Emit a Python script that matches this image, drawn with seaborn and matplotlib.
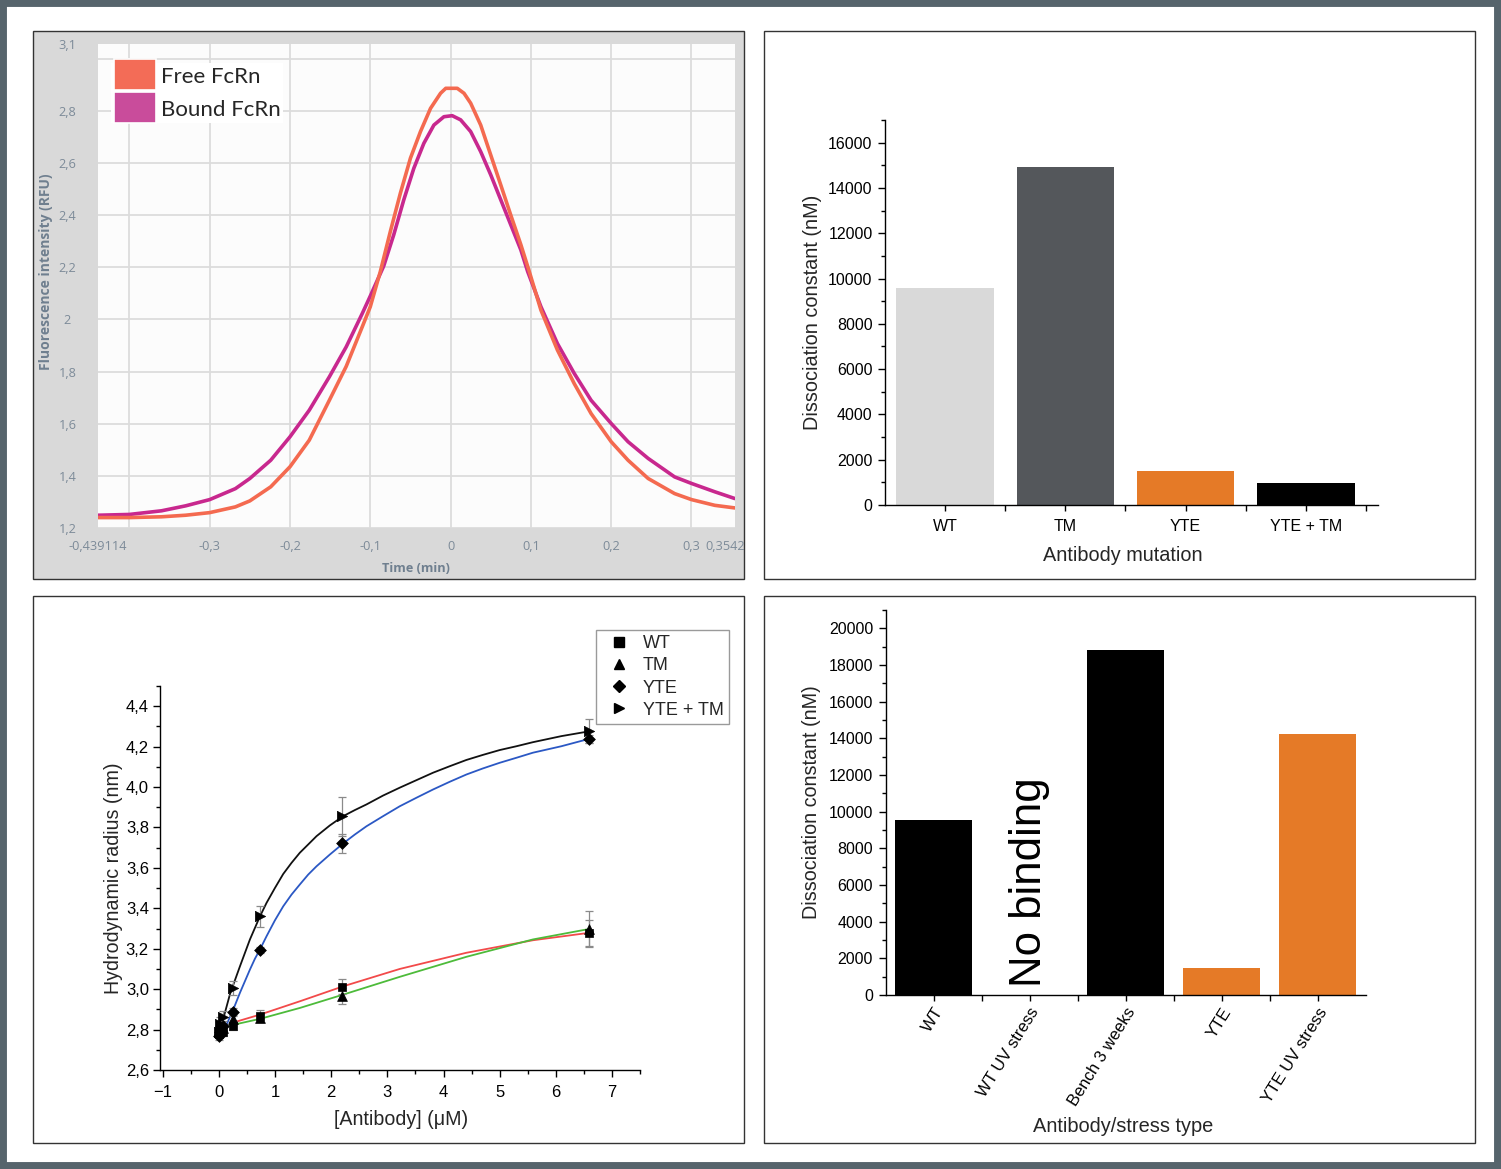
import numpy as np
import matplotlib
matplotlib.use("Agg")
import matplotlib.pyplot as plt
import seaborn as sns
from matplotlib.patches import Rectangle, Patch
from matplotlib.lines import Line2D
from matplotlib.legend_handler import HandlerPatch
from matplotlib.ticker import MultipleLocator, FixedLocator, FuncFormatter
from matplotlib.transforms import ScaledTranslation

W, H = 1501, 1169

# Painel A - picos de FcRn
free_time = [-0.439, -0.40, -0.36, -0.33, -0.30, -0.268, -0.25, -0.224, -0.20, -0.176,
             -0.151, -0.13, -0.11, -0.10, -0.0875, -0.075, -0.0625, -0.05, -0.0375,
             -0.025, -0.0125, -0.006, 0.0083, 0.0167, 0.025, 0.0375, 0.05, 0.0625,
             0.075, 0.0875, 0.098, 0.1125, 0.133, 0.154, 0.175, 0.20, 0.221, 0.246,
             0.279, 0.30, 0.329, 0.354]
free_fcrn = [1.240, 1.240, 1.243, 1.249, 1.259, 1.281, 1.304, 1.358, 1.435, 1.537,
             1.690, 1.820, 1.972, 2.049, 2.184, 2.338, 2.485, 2.619, 2.721,
             2.810, 2.868, 2.887, 2.887, 2.868, 2.830, 2.746, 2.631, 2.516,
             2.400, 2.287, 2.184, 2.036, 1.883, 1.754, 1.639, 1.531, 1.460, 1.390,
             1.332, 1.309, 1.287, 1.277]
bound_time = [-0.439, -0.40, -0.36, -0.33, -0.30, -0.268, -0.25, -0.224, -0.20, -0.176,
              -0.151, -0.13, -0.11, -0.10, -0.0833, -0.0708, -0.0583, -0.0458, -0.0333,
              -0.0208, -0.0083, 0.002, 0.0125, 0.025, 0.0375, 0.05, 0.0625, 0.075,
              0.0875, 0.096, 0.1125, 0.133, 0.154, 0.175, 0.20, 0.221, 0.246, 0.279,
              0.30, 0.329, 0.354]
bound_fcrn = [1.249, 1.252, 1.266, 1.285, 1.309, 1.351, 1.390, 1.460, 1.550, 1.652,
              1.780, 1.895, 2.023, 2.090, 2.205, 2.325, 2.459, 2.580, 2.676,
              2.746, 2.778, 2.782, 2.766, 2.721, 2.644, 2.555, 2.459, 2.363,
              2.267, 2.184, 2.049, 1.908, 1.793, 1.690, 1.601, 1.531, 1.467, 1.396,
              1.371, 1.339, 1.313]

# Painel B - constante de dissociação por mutação
mutations = ["WT", "TM", "YTE", "YTE + TM"]
kd_mutation = [9570, 14930, 1500, 960]
mutation_colors = ["#d9d9d9", "#54575b", "#e57a27", "#000000"]

# Painel C - raio hidrodinâmico
antibody_conc = [0, 0.027, 0.081, 0.244, 0.733, 2.2, 6.6]
rh_wt = [2.78, 2.80, 2.79, 2.82, 2.866, 3.011, 3.279]
rh_wt_err = [0.02, 0.02, 0.02, 0.02, 0.03, 0.037, 0.063]
rh_tm = [2.80, 2.82, 2.81, 2.85, 2.858, 2.968, 3.298]
rh_tm_err = [0.02, 0.02, 0.02, 0.02, 0.02, 0.04, 0.09]
rh_yte = [2.77, 2.79, 2.82, 2.887, 3.193, 3.721, 4.236]
rh_yte_err = [0.02, 0.02, 0.02, 0.02, 0.015, 0.045, 0.02]
rh_ytetm = [2.79, 2.83, 2.86, 3.006, 3.36, 3.856, 4.276]
rh_ytetm_err = [0.02, 0.03, 0.03, 0.035, 0.052, 0.096, 0.06]

fit_ytetm_x = [0.006, 0.077, 0.107, 0.196, 0.225, 0.374, 0.552, 0.730, 0.848, 0.996,
               1.145, 1.293, 1.441, 1.59, 1.738, 1.975, 2.212, 2.42, 2.628, 2.924,
               3.221, 3.517, 3.814, 4.11, 4.407, 4.70, 5.0, 5.30, 5.593, 6.1, 6.6]
fit_ytetm = [2.775, 2.855, 2.884, 2.975, 2.998, 3.113, 3.246, 3.360, 3.427, 3.500,
             3.570, 3.625, 3.675, 3.716, 3.757, 3.810, 3.856, 3.886, 3.914, 3.958,
             3.997, 4.034, 4.071, 4.103, 4.134, 4.159, 4.183, 4.202, 4.222, 4.252, 4.276]
fit_yte_x = [0.018, 0.136, 0.255, 0.374, 0.552, 0.64, 0.730, 0.848, 0.996, 1.145,
             1.293, 1.441, 1.59, 1.738, 1.975, 2.212, 2.42, 2.628, 2.924, 3.221,
             3.517, 3.814, 4.11, 4.407, 4.70, 5.0, 5.30, 5.593, 6.1, 6.6]
fit_yte = [2.759, 2.825, 2.899, 2.982, 3.097, 3.150, 3.196, 3.262, 3.340, 3.410,
           3.468, 3.518, 3.567, 3.608, 3.666, 3.721, 3.765, 3.806, 3.856, 3.905,
           3.947, 3.988, 4.026, 4.062, 4.092, 4.120, 4.145, 4.170, 4.202, 4.239]
fit_lin_x = [0.196, 0.730, 1.441, 2.212, 3.221, 4.407, 5.593, 6.6]
fit_wt = [2.830, 2.874, 2.940, 3.014, 3.100, 3.180, 3.242, 3.279]
fit_tm = [2.820, 2.853, 2.907, 2.973, 3.061, 3.160, 3.246, 3.298]

# Painel D - constante de dissociação por estresse
stress_types = ["WT", "WT UV stress", "Bench 3 weeks", "YTE", "YTE UV stress"]
kd_stress = [9570, 0, 18810, 1500, 14220]
stress_colors = ["#000000", "#000000", "#000000", "#e57a27", "#e57a27"]


def frac_rect(x0, y0, x1, y1):
    return [x0 / W, 1 - y1 / H, (x1 - x0) / W, (y1 - y0) / H]


def comma(v, pos=None):
    return f"{v:.1f}".replace(".", ",")


def big_patch(legend, orig_handle, xdescent, ydescent, width, height, fontsize):
    # quadrado alto como no software original
    h = 22.8
    cy = (height - ydescent) / 2
    return Rectangle((-xdescent, cy - h / 2), width, h)


sns.set_theme(style="ticks")
plt.rcParams["font.family"] = ["Liberation Sans", "DejaVu Sans"]
plt.rcParams["axes.linewidth"] = 1.0
plt.rcParams["axes.edgecolor"] = "black"
plt.rcParams["xtick.color"] = "black"
plt.rcParams["ytick.color"] = "black"

fig = plt.figure(figsize=(W / 100, H / 100), dpi=100)
fig.patch.set_facecolor("white")

panels = [((33, 31, 744, 579), "#d9d9d9"), ((764, 31, 1475, 579), "white"),
          ((33, 596, 744, 1143), "white"), ((764, 596, 1475, 1143), "white")]
for box, fc in panels:
    l, b, w, h = frac_rect(*box)
    fig.patches.append(Rectangle((l, b), w, h, transform=fig.transFigure,
                                 facecolor=fc, edgecolor="#333333", lw=1.0, zorder=-1))
fig.patches.append(Rectangle((0, 0), 1, 1, transform=fig.transFigure, fill=False,
                             edgecolor="#56646c", lw=10, zorder=10))

# ---------- Painel A ----------
axA = fig.add_axes(frac_rect(98, 44, 735, 528))
axA.set_facecolor("#fcfcfc")
sns.lineplot(x=bound_time, y=bound_fcrn, ax=axA, color="#c8288e", lw=2.6)
sns.lineplot(x=free_time, y=free_fcrn, ax=axA, color="#f46a50", lw=2.6)
axA.set_xlim(-0.439114, 0.3542)
axA.set_ylim(1.2, 3.057)
axA.xaxis.remove_overlapping_locs = False
axA.yaxis.remove_overlapping_locs = False
xt = [-0.439114, -0.3, -0.2, -0.1, 0, 0.1, 0.2, 0.3, 0.3542]
xl = ["-0,439114", "-0,3", "-0,2", "-0,1", "0", "0,1", "0,2", "0,3", "0,3542"]
axA.xaxis.set_major_locator(FixedLocator(xt))
axA.set_xticklabels(xl)
axA.xaxis.set_minor_locator(FixedLocator([-0.4, -0.3, -0.2, -0.1, 0, 0.1, 0.2, 0.3]))
yt = [1.2, 1.4, 1.6, 1.8, 2.0, 2.2, 2.4, 2.6, 2.8, 3.057]
yl = ["1,2", "1,4", "1,6", "1,8", "2", "2,2", "2,4", "2,6", "2,8", "3,1"]
axA.yaxis.set_major_locator(FixedLocator(yt))
axA.set_yticklabels(yl, ha="center")
axA.yaxis.set_minor_locator(FixedLocator([1.2, 1.4, 1.6, 1.8, 2.0, 2.2, 2.4, 2.6, 2.8, 3.0]))
axA.grid(False)
axA.grid(which="minor", color="#dcdcdc", lw=1.3)
axA.set_axisbelow(True)
for s in axA.spines.values():
    s.set_visible(False)
axA.tick_params(which="both", length=0, labelcolor="#7d8b99", labelsize=9.2)
axA.tick_params(axis="y", pad=22)
axA.tick_params(axis="x", pad=9)
for lbl in axA.get_xticklabels() + axA.get_yticklabels():
    lbl.set_family(["Open Sans", "DejaVu Sans"])
axA.set_xlabel("Time (min)", fontsize=9.2, fontweight="bold", color="#6f7f8f",
               family=["Open Sans", "DejaVu Sans"])
axA.set_ylabel("Fluorescence intensity (RFU)", fontsize=10, fontweight="bold",
               color="#6f7f8f", family=["Open Sans", "DejaVu Sans"])
axA.xaxis.set_label_coords((416 - 98) / 637, (528 - 562) / 484)
axA.yaxis.set_label_coords((53 - 98) / 637, (528 - 272) / 484)
handles = [Patch(facecolor="#f36c57", edgecolor="white", lw=1.2),
           Patch(facecolor="#c94c9b", edgecolor="white", lw=1.2)]
axA.legend(handles, ["Free FcRn", "Bound FcRn"], loc="upper left",
           bbox_to_anchor=((111 - 98) / 637, (528 - 63) / 484), borderaxespad=0,
           frameon=True, facecolor="white", edgecolor="none", fancybox=False,
           framealpha=1, handlelength=1.9, handleheight=1.0, handletextpad=0.22,
           labelspacing=0.52, borderpad=0.12,
           handler_map={Patch: HandlerPatch(patch_func=big_patch)},
           prop={"family": ["Lato", "DejaVu Sans"], "size": 16})

# ---------- Painel B ----------
axB = fig.add_axes(frac_rect(885, 120, 1378, 505))
axB.set_facecolor("none")
sns.barplot(x=mutations, y=kd_mutation, hue=mutations, palette=mutation_colors,
            saturation=1, width=0.81, legend=False, ax=axB, linewidth=0)
axB.set_xlim(-0.5, 3.6)
axB.set_ylim(0, 17000)
axB.yaxis.set_major_locator(MultipleLocator(2000))
axB.yaxis.set_minor_locator(MultipleLocator(1000))
axB.xaxis.set_minor_locator(FixedLocator([0.5, 1.5, 2.5, 3.5]))
sns.despine(ax=axB)
axB.tick_params(which="major", length=5, width=1, labelsize=11.5)
axB.tick_params(which="minor", length=3, width=1)
axB.tick_params(axis="x", which="both", length=4, pad=6)
axB.tick_params(axis="y", pad=4)
axB.set_xlabel("Antibody mutation", fontsize=14.3)
axB.set_ylabel("Dissociation constant (nM)", fontsize=14.3)
axB.xaxis.set_label_coords((1123 - 885) / 493, (505 - 546) / 385)
axB.yaxis.set_label_coords((822 - 885) / 493, 0.5)

# ---------- Painel C ----------
axC = fig.add_axes(frac_rect(160, 686, 640, 1070))
axC.set_facecolor("none")
sns.lineplot(x=fit_ytetm_x, y=fit_ytetm, ax=axC, color="#111111", lw=1.3)
sns.lineplot(x=fit_yte_x, y=fit_yte, ax=axC, color="#2b58c4", lw=1.3)
sns.lineplot(x=fit_lin_x, y=fit_wt, ax=axC, color="#f24a4a", lw=1.3)
sns.lineplot(x=fit_lin_x, y=fit_tm, ax=axC, color="#4dbb3a", lw=1.3)
series = [(rh_wt, rh_wt_err, "s", 40), (rh_tm, rh_tm_err, "^", 50),
          (rh_yte, rh_yte_err, "D", 36), (rh_ytetm, rh_ytetm_err, ">", 55)]
for vals, errs, mk, sz in series:
    axC.errorbar(antibody_conc, vals, yerr=errs, fmt="none", ecolor="#8a8a8a",
                 elinewidth=0.9, capsize=3, capthick=0.9, zorder=2)
for vals, errs, mk, sz in series:
    sns.scatterplot(x=antibody_conc, y=vals, marker=mk, s=sz, color="black",
                    edgecolor="black", linewidth=0.5, ax=axC, zorder=4)
axC.set_xlim(-1.05, 7.5)
axC.set_ylim(2.6, 4.5)
axC.xaxis.set_major_locator(MultipleLocator(1))
axC.xaxis.set_minor_locator(MultipleLocator(0.5))
axC.yaxis.set_major_locator(MultipleLocator(0.2))
axC.yaxis.set_minor_locator(MultipleLocator(0.1))
axC.yaxis.set_major_formatter(FuncFormatter(comma))
sns.despine(ax=axC)
axC.tick_params(which="major", length=5, width=1, labelsize=12)
axC.tick_params(which="minor", length=3, width=1)
axC.tick_params(axis="y", pad=3)
axC.tick_params(axis="x", pad=6)
axC.set_xlabel("[Antibody] (μM)", fontsize=14.1)
axC.set_ylabel("Hydrodynamic radius (nm)", fontsize=14.1)
axC.xaxis.set_label_coords((401 - 160) / 480, (1070 - 1110) / 384)
axC.yaxis.set_label_coords((123 - 160) / 480, 0.5)
leg_handles = [Line2D([], [], ls="none", marker="s", color="black", ms=6.5),
               Line2D([], [], ls="none", marker="^", color="black", ms=7.5),
               Line2D([], [], ls="none", marker="D", color="black", ms=6.0),
               Line2D([], [], ls="none", marker=">", color="black", ms=7.5)]
axC.legend(leg_handles, ["WT", "TM", "YTE", "YTE + TM"], loc="upper left",
           bbox_to_anchor=((596 - 160) / 480, (1070 - 630) / 384), borderaxespad=0,
           frameon=True, fancybox=False, edgecolor="#9a9a9a", framealpha=1,
           handlelength=2.0, handletextpad=0.3, labelspacing=0.28, borderpad=0.3,
           fontsize=13)
axC.get_legend().get_frame().set_linewidth(1.0)

# ---------- Painel D ----------
axD = fig.add_axes(frac_rect(885.5, 610, 1365.5, 995))
axD.set_facecolor("none")
sns.barplot(x=stress_types, y=kd_stress, hue=stress_types, palette=stress_colors,
            saturation=1, width=0.81, legend=False, ax=axD, linewidth=0)
axD.set_xlim(-0.5, 4.5)
axD.set_ylim(0, 21000)
axD.yaxis.set_major_locator(MultipleLocator(2000))
axD.yaxis.set_minor_locator(MultipleLocator(1000))
axD.xaxis.set_minor_locator(FixedLocator([0.5, 1.5, 2.5, 3.5]))
sns.despine(ax=axD)
axD.tick_params(which="major", length=5, width=1, labelsize=11.5)
axD.tick_params(which="minor", length=3, width=1)
axD.tick_params(axis="x", which="both", length=4, pad=3)
axD.tick_params(axis="y", pad=4)
axD.set_xticks(range(len(stress_types)))
axD.set_xticklabels(stress_types, rotation=58, ha="right", va="top",
                    rotation_mode="anchor", fontsize=12)
axD.text(1, 450, "No binding", rotation=90, ha="center", va="bottom",
         fontsize=31.5, color="black")
axD.set_xlabel("Antibody/stress type", fontsize=14.4)
axD.set_ylabel("Dissociation constant (nM)", fontsize=14.2)
axD.xaxis.set_label_coords((1123 - 885.5) / 480, (995 - 1117) / 385)
axD.yaxis.set_label_coords((821 - 885.5) / 480, 0.5)

# desloca o rótulo final do eixo de tempo para a esquerda
last = axA.xaxis.get_major_ticks()[-1].label1
last.set_transform(last.get_transform() + ScaledTranslation(-0.10, 0, fig.dpi_scale_trans))

fig.savefig("out.png", dpi=100)
